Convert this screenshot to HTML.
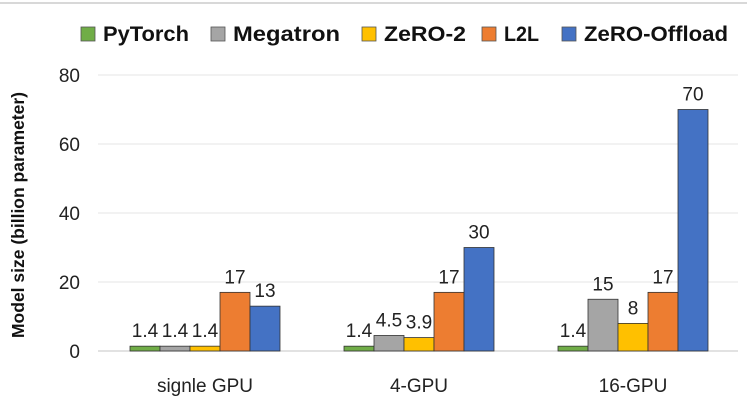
<!DOCTYPE html>
<html><head><meta charset="utf-8"><style>
body{margin:0;background:#fff;font-family:"Liberation Sans",Arial,sans-serif}
svg text{font-family:"Liberation Sans",Arial,sans-serif}
</style></head><body>
<svg id="chart" width="747" height="404" viewBox="0 0 747 404" xmlns="http://www.w3.org/2000/svg">
<line x1="0" y1="3" x2="747" y2="3" stroke="#ccc" stroke-width="1.5"/>
<g id="grid"></g><g id="bars"></g><g id="labels"></g><g id="legend"></g>
<text transform="translate(24,215) rotate(-90)" text-anchor="middle" font-size="17.5" font-weight="bold" fill="#111">Model size (billion parameter)</text>
</svg>
<script>
const categories=["signle GPU","4-GPU","16-GPU"];
const series=["PyTorch","Megatron","ZeRO-2","L2L","ZeRO-Offload"];
const colors=["#70ad47","#a5a5a5","#ffc000","#ed7d31","#4472c4"];
const pytorch=[1.4,1.4,1.4];
const megatron=[1.4,4.5,15];
const zero2=[1.4,3.9,8];
const l2l=[17,17,17];
const offload=[13,30,70];
const labelsText=[["1.4","1.4","1.4"],["1.4","4.5","15"],["1.4","3.9","8"],["17","17","17"],["13","30","70"]];
const yTicks=[0,20,40,60,80];
const values=[pytorch,megatron,zero2,l2l,offload];
const NS="http://www.w3.org/2000/svg";
const y0=351,yTop=75,yMax=80;
const y=v=>y0-(v/yMax)*(y0-yTop);
const plotL=98,catW=214,barW=30;
const cx=i=>plotL+catW*(i+0.5);
function mk(t,a,p){const e=document.createElementNS(NS,t);for(const k in a)e.setAttribute(k,a[k]);p.appendChild(e);return e;}
const grid=document.getElementById('grid'),bars=document.getElementById('bars'),lab=document.getElementById('labels'),leg=document.getElementById('legend');
yTicks.forEach(t=>{
 const l=mk('line',{x1:plotL,x2:738,y1:y(t),y2:y(t),stroke:t==0?'#d9d9d9':'#e6e6e6','stroke-width':t==0?1.5:1},grid);
 
 
 const tx=mk('text',{x:80,y:y(t)+7,'text-anchor':'end','font-size':19,fill:'#222'},grid);
 tx.textContent=t;
 
 
});
categories.forEach((c,i)=>{
 const tx=mk('text',{x:cx(i),y:392,'text-anchor':'middle','font-size':19,fill:'#222'},lab);
 tx.textContent=c;
 
 
 series.forEach((s,j)=>{
  const v=values[j][i];
  const bx=cx(i)-2.5*barW+j*barW;
  const r=mk('rect',{x:bx,y:y(v),width:barW,height:y0-y(v),fill:colors[j],stroke:'#333','stroke-width':0.8},bars);
  
  
  const vt=mk('text',{x:bx+barW/2,y:y(v)-9,'text-anchor':'middle','font-size':19,fill:'#222'},lab);
  vt.textContent=labelsText[j][i];
  
  
 });
});
const legX=[81,211,362,482,562];
const legW=[86,107,82,35,144];
series.forEach((s,j)=>{
 const g=mk('g',{},leg);
 
 
 mk('rect',{x:legX[j],y:27,width:14,height:14,fill:colors[j],stroke:'#555','stroke-width':0.8},g);
 const t=mk('text',{x:legX[j]+22,y:41,'font-size':21,'font-weight':'bold',fill:'#111',textLength:legW[j],lengthAdjust:'spacingAndGlyphs'},g);
 t.textContent=s;
});
</script>
</body></html>
